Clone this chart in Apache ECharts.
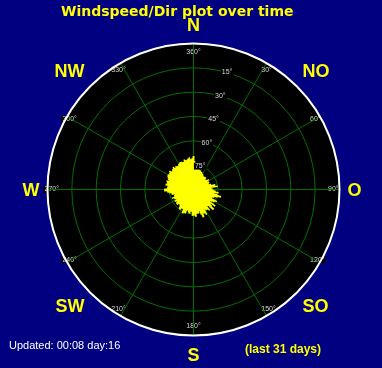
<!DOCTYPE html>
<html><head><meta charset="utf-8">
<script src="https://cdn.jsdelivr.net/npm/echarts@6/dist/echarts.min.js"></script>
<style>html,body{margin:0;padding:0;background:#000080;}#c{width:382px;height:368px;}</style>
</head><body><div id="c"></div>
<script>
// ---- data ----
const titleText = 'Windspeed/Dir plot over time';
const updatedText = 'Updated: 00:08 day:16';
const periodText = '(last 31 days)';
const compassLabels = ['N', 'NO', 'O', 'SO', 'S', 'SW', 'W', 'NW'];
const angleTicks = [0, 30, 60, 90, 120, 150, 180, 210, 240, 270, 300, 330];
const elevationTicks = [15, 30, 45, 60, 75];
// wind direction (deg, clockwise from north) and wind speed per direction
const windDir = [0,5,10,15,20,25,30,35,40,45,50,55,60,65,70,75,80,85,90,95,100,105,110,115,
  120,125,130,135,140,145,150,155,160,165,170,175,180,185,190,195,200,205,210,215,220,225,230,235,
  240,245,250,255,260,265,270,275,280,285,290,295,300,305,310,315,320,325,330,335,340,345,350,355];
const windSpeed = [16.5,13,12,11,10,9.5,9,8.5,8,8.5,7.5,8,8,8.5,7.5,9,10.5,8.5,9.5,11,10,14,11,10,
  12,10,11,14,10.5,12,11,13,14.5,11,12,13.5,13,11,12,10.5,12.5,13,11,12,10.5,10,11,10,
  9.5,10.5,10,9.5,11,13,14.5,13,14,13.5,13,14,14.5,14.5,14,14.5,14,14,14.5,15,14.5,15,15.5,15];
const gustDir = [2.5,7.5,12.5,17.5,22.5,27.5,32.5,37.5,42.5,47.5,52.5,57.5,62.5,67.5,72.5,77.5,82.5,87.5,
  92.5,97.5,102.5,107.5,112.5,117.5,122.5,127.5,132.5,137.5,142.5,147.5,152.5,157.5,162.5,167.5,172.5,177.5,
  182.5,187.5,192.5,197.5,202.5,207.5,212.5,217.5,222.5,227.5,232.5,237.5,242.5,247.5,252.5,257.5,262.5,267.5,
  272.5,277.5,282.5,287.5,292.5,297.5,302.5,307.5,312.5,317.5,322.5,327.5,332.5,337.5,342.5,347.5,352.5,357.5];
const gustSpeed = [14,11,10,9,9,8,8,7.5,7,8,7,9,7,8,8,11,12,9,
  10,12.5,12,12.5,10,13,11,13.5,12,11,13,12,14,12,13,12,11,12,
  13,10,11.5,11,12,11,10,11.5,10,11,10.5,11,10,11.5,10,11,12,14.5,
  13,12.5,13,14,13.5,14.5,14,15,14,15,14.5,14,15,14.5,15.5,15,16,15.5];
const speedMax = 72;

// ---- chart ----
const CX = 193.5, CY = 189.5, R = 146;
const grid = '#007000';
function spikesOf(dirs, speeds) {
  const out = [];
  dirs.forEach((d, i) => { out.push([0, d]); out.push([speeds[i], d]); });
  out.push([0, 0]);
  return out;
}
const labelShift = {N: [18, 0], NO: [20, 0], O: [4, 0], SO: [0, 18], S: [4, 0], SW: [0, 10], W: [4, 0], NW: [20, 0]};
const compassRich = {};
compassLabels.forEach(c => {
  compassRich[c] = {color: '#ffff00', fontSize: 18, fontWeight: 'bold', fontFamily: 'Liberation Sans',
    padding: [labelShift[c][0], 0, labelShift[c][1], 0]};
});

const chart = echarts.init(document.getElementById('c'), null, {renderer: 'canvas'});
chart.setOption({
  backgroundColor: '#000080',
  animation: false,
  title: [
    {text: titleText, left: 61, top: 5, padding: 0, textStyle: {color: '#ffff00', fontSize: 14, fontWeight: 'bold', fontFamily: 'DejaVu Sans'}},
    {text: updatedText, left: 9, top: 340, padding: 0, textStyle: {color: '#ffffff', fontSize: 11, fontWeight: 'normal', fontFamily: 'Liberation Sans'}},
    {text: periodText, left: 245, top: 344, padding: 0, textStyle: {color: '#ffff00', fontSize: 12, fontWeight: 'bold', fontFamily: 'Liberation Sans'}}
  ],
  polar: [
    {center: [CX, CY], radius: R},
    {center: [CX, CY], radius: R},
    {center: [CX, CY], radius: R},
    {center: [CX, CY], radius: R}
  ],
  angleAxis: [
    {polarIndex: 0, type: 'value', min: 0, max: 360, interval: 30, startAngle: 90, clockwise: true,
     axisLine: {lineStyle: {color: '#ffffff', width: 2}},
     axisTick: {show: false},
     splitLine: {show: false},
     axisLabel: {show: false}},
    {polarIndex: 1, type: 'value', min: 0, max: 360, startAngle: 74, show: false},
    {polarIndex: 2, type: 'value', min: 0, max: 360, interval: 30, startAngle: 90, clockwise: true,
     axisLine: {show: false}, axisTick: {show: false},
     splitLine: {show: true, lineStyle: {color: grid, width: 1}},
     axisLabel: {margin: -12.5, align: 'center', verticalAlign: 'middle', color: '#d8d8d8', fontSize: 7,
       fontFamily: 'Liberation Sans', backgroundColor: '#000', padding: [0, 1],
       formatter: v => angleTicks.indexOf(v) >= 0 ? ((v === 0 ? 360 : v) + '°') : ''}},
    {polarIndex: 3, type: 'category', data: compassLabels, boundaryGap: false, startAngle: 90, clockwise: true,
     axisLine: {show: false}, axisTick: {show: false}, splitLine: {show: false},
     axisLabel: {margin: 8, align: 'center', verticalAlign: 'middle', color: '#ffff00', fontSize: 18,
       fontWeight: 'bold', fontFamily: 'Liberation Sans',
       formatter: v => '{' + v + '|' + v + '}', rich: compassRich}}
  ],
  radiusAxis: [
    {polarIndex: 0, type: 'value', min: 0, max: 90, interval: 15, inverse: true,
     axisLine: {show: false}, axisTick: {show: false}, axisLabel: {show: false},
     splitLine: {show: false},
     splitArea: {show: true, areaStyle: {color: ['#000000']}}},
    {polarIndex: 1, type: 'value', min: 0, max: 90, interval: 15, inverse: true, z: 10,
     axisLine: {show: false}, axisTick: {show: false}, splitLine: {show: false},
     axisLabel: {margin: 0, align: 'center', verticalAlign: 'middle', color: '#d8d8d8', fontSize: 7,
       fontFamily: 'Liberation Sans', backgroundColor: '#000', padding: [0, 1],
       formatter: v => elevationTicks.indexOf(v) >= 0 ? (v + '°') : ''}},
    {polarIndex: 2, type: 'value', min: 0, max: speedMax, interval: 12,
     axisLine: {show: false}, axisTick: {show: false}, axisLabel: {show: false},
     splitLine: {show: true, lineStyle: {color: grid, width: 1}}},
    {polarIndex: 3, type: 'value', show: false}
  ],
  series: [
    {type: 'line', coordinateSystem: 'polar', polarIndex: 2, data: spikesOf(windDir, windSpeed), symbol: 'none',
     lineStyle: {color: '#ffff00', width: 2}, z: 3, silent: true},
    {type: 'line', coordinateSystem: 'polar', polarIndex: 2, data: spikesOf(gustDir, gustSpeed), symbol: 'none',
     lineStyle: {color: '#ffff00', width: 1.5}, z: 3, silent: true}
  ]
});
</script></body></html>
